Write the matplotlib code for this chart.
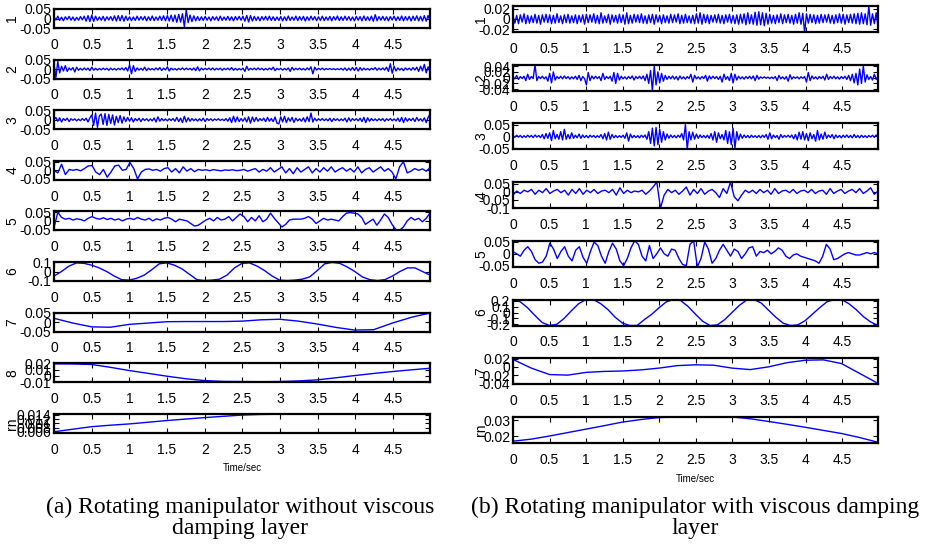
import numpy as np
import matplotlib
matplotlib.use("Agg")
import matplotlib.pyplot as plt

# ---- data: IMF components ----
# (a) without viscous damping layer, values in units noted by the scale factor
a_imf1 = np.array([
    10, -8, 12, -10, 7, -12, 9, -6, 11, -9, 8, -11, 6, -9, 10, -7, 12, -14, 15, -16,
    18, -15, 12, -10, 8, -9, 11, -12, 9, -8, 10, -11, 14, -13, 15, -12, 16, -14, 12, -10,
    9, -11, 8, -10, 12, -9, 10, -8, 11, -12, 9, -10, 13, -11, 8, -9, 12, -10, 14, -12,
    15, -13, 17, -16, 18, -20, 22, -19, 25, -44, 46, -22, 18, -16, 14, -12, 10, -11, 9, -10,
    11, -9, 8, -12, 10, -8, 9, -11, 12, -10, 8, -9, 11, -10, 9, -12, 10, -8, 11, -9,
    12, -14, 16, -18, 15, -13, 11, -10, 9, -12, 10, -8, 11, -9, 12, -10, 9, -11, 8, -10,
    10, -12, 9, -11, 13, -10, 8, -9, 12, -11, 10, -9, 11, -13, 9, -10, 12, -8, 10, -11,
    9, -10, 12, -11, 8, -9, 11, -12, 10, -8, 13, -11, 9, -10, 12, -9, 10, -11, 8, -12,
    11, -9, 10, -12, 13, -10, 9, -11, 12, -14, 20, -12, 10, -9, 11, -10, 9, -12, 10, -8,
    12, -11, 9, -10, 13, -12, 10, -9, 11, -13, 12, -10, 14, -12, 11, -13, 15, -14, 16, -12]) * 1e-3
a_imf2 = np.array([
    30, -45, 40, -20, 15, -10, 18, -12, 6, -5, 8, -15, 10, -6, 4, -5, 6, -4, 5, -8,
    10, -6, 4, -5, 3, -4, 5, -3, 4, -6, 5, -4, 3, -5, 4, -3, 6, -5, 8, -10,
    22, -25, 18, -12, 6, -5, 4, -6, 10, -8, 5, -4, 3, -5, 6, -4, 8, -7, 5, -4,
    12, -10, 5, -4, 3, -5, 4, -3, 6, -4, 5, -3, 4, -5, 6, -8, 12, -9, 5, -4,
    4, -3, 5, -4, 6, -5, 4, -3, 5, -6, 4, -3, 5, -4, 8, -6, 4, -5, 3, -4,
    5, -12, 15, -6, 4, -3, 5, -4, 6, -3, 4, -5, 3, -4, 5, -3, 10, -8, 4, -3,
    4, -5, 3, -4, 6, -12, 9, -5, 4, -3, 5, -4, 3, -5, 6, -4, 12, -25, 10, -5,
    4, -3, 5, -4, 3, -2, 3, -2, 2, -3, 2, -3, 4, -5, 6, -7, 5, -6, 8, -7,
    9, -10, 8, -6, 5, -4, 3, -5, 4, -3, 8, -6, 5, -4, 6, -5, 10, -12, 28, -22,
    15, -10, 6, -5, 4, -8, 6, -4, 5, -6, 8, -5, 10, -12, 15, -9, 25, -20, 12, -15]) * 1e-3
a_imf3 = np.array([
    0, 12, -8, 10, -12, 6, -4, 8, -10, 5, -3, 4, -6, 3, -5, 6, -4, 8, -12, 10,
    25, -30, 35, -40, 20, 30, -25, 32, -30, 28, -20, 25, -28, 18, -15, 22, -18, 15, -10, 12,
    -8, 10, -12, 6, -5, 8, -10, 6, -4, 5, -7, 4, -6, 9, -12, 15, -8, 6, -5, 4,
    -6, 5, -4, 6, -8, 12, -10, 8, -15, 18, -12, 10, -8, 6, -5, 4, -7, 5, -6, 8,
    -10, 6, -4, 5, -6, 4, -3, 5, -4, 3, -5, 6, -8, 10, -15, 18, -12, 14, -10, 6,
    -8, 10, -12, 15, -18, 14, -10, 12, -8, 6, -5, 8, -10, 12, -8, 6, -10, 14, -18, -22,
    15, -12, 18, -15, 10, -8, 12, -14, 8, -6, 5, -8, 10, -12, 15, -10, 35, -12, 8, -6,
    5, -4, 6, -5, 4, -6, 8, -10, 6, -4, 5, -6, 4, -5, 8, -12, 10, -8, 6, -4,
    5, -6, 8, -10, 12, -15, 10, -8, 6, -5, 4, -6, 5, -4, 6, -8, 5, -4, 6, -5,
    4, -6, 8, -10, 12, -15, 10, -8, 6, -5, 8, -10, 12, -6, 5, -8, 10, -15, 12, 30]) * 1e-3
a_imf4 = np.array([
    0, -15, 35, -25, 5, 0, 5, -3, 10, 25,
    28, -10, -25, 5, -40, -10, 25, 30, 0, 5,
    45, 10, -50, -10, 5, 8, 0, 5, -5, 10,
    15, -10, 10, -15, 20, -5, 10, -8, 5, 0,
    3, -2, 4, 0, -3, 2, 0, 3, -2, 0,
    5, -5, 3, 10, -10, 5, -5, 15, -10, 5,
    20, -15, 10, -20, 15, -10, 5, 20, -15, 10,
    -10, 15, -5, 20, -10, 5, 15, -5, 10, -10,
    20, -15, 5, 15, -10, 5, 20, -5, 10, -10,
    -50, 20, 50, -15, -5, 10, 0, 8, -5, 15]) * 1e-3
a_imf5 = np.array([
    -40, 50, 20, 10, 15, 5, 12, 8, 0, 15,
    25, 15, 10, 18, 8, 15, 5, 12, 0, 10,
    15, 8, 20, 10, 5, 15, 0, 12, 5, 15,
    20, 10, -5, 10, 5, 0, -15, -30, -25, -10,
    5, 15, 0, 20, 5, 10, 25, 0, 20, 40,
    25, -5, 20, 0, 30, -5, 10, 45, 15, -10,
    -35, -20, 5, 10, 10, 10, 15, 25, 10, -15,
    0, 15, 5, 10, 5, 0, 25, 45, 48, 45,
    40, 20, -20, -5, 10, -25, 5, 40, 20, -20,
    -50, -55, -35, 0, 20, 5, 15, -5, 15, 45]) * 1e-3
a_imf6 = np.array([
    -50, 0, 60, 95, 90, 70, 40, 0, -50, -90,
    -95, -75, -40, 20, 85, 95, 70, 30, -30, -90,
    -100, -95, -85, -40, 40, 90, 95, 60, 10, -50,
    -95, -100, -95, -85, -60, 10, 85, 100, 90, 50,
    0, -60, -90, -100, -90, -50, 0, 40, 40, 0, -40]) * 1e-3
a_imf7 = np.array([20, -5, -25, -27, -12, -5, 2, 3, 3, 3, 5,
                   12, 15, 5, -10, -28, -42, -40, -5, 25, 48]) * 1e-3
a_imf8 = np.array([190, 188, 180, 135, 84, 40, -5, -45, -74, -88, -90,
                   -92, -90, -80, -63, -30, 5, 38, 68, 95, 120]) * 1e-4
a_rn = np.array([600, 720, 840, 910, 970, 1050, 1130, 1200, 1270, 1330, 1390,
                 1420, 1430, 1433, 1435, 1437, 1438, 1439, 1440, 1440, 1440]) * 1e-5

# (b) with viscous damping layer
b_imf1 = np.array([
    6, -8, 7, -9, 8, -6, 10, -9, 7, -8, 6, -7, 9, -8, 7, -10, 8, -6, 9, -7,
    8, -9, 7, -8, 10, -7, 6, -9, 8, -7, 9, -8, 6, -7, 8, -9, 7, -6, 8, -10,
    9, -7, 8, -6, 10, -8, 7, -9, 12, -8, 6, -7, 9, -10, 8, -6, 7, -8, 9, -7,
    8, -10, 12, -9, 7, -8, 9, -6, 8, -7, 10, -8, 6, -9, 8, -7, 9, -10, 8, -6,
    7, -9, 8, -7, 6, -8, 9, -7, 8, -6, 10, -9, 7, -8, 9, -7, 6, -8, 7, -9,
    10, -8, 12, -10, 9, -7, 8, -9, 7, -6, 8, -7, 9, -8, 7, -9, 8, -6, 9, -8,
    7, -9, 8, -10, 9, -8, 10, -11, 12, -9, 8, -10, 13, -12, 14, -11, 12, -13, 11, -10,
    9, -8, 7, -9, 8, -7, 10, -9, 8, -7, 9, -8, 7, -10, 9, -8, 12, -10, 11, -26,
    10, -8, 9, -7, 8, -9, 7, -8, 9, -7, 8, -6, 9, -8, 7, -9, 8, -7, 10, -8,
    9, -10, 8, -7, 9, -8, 10, -9, 11, -10, 12, -9, 10, -11, 24, -12, 10, -9, 12, -14]) * 1e-3
b_imf2 = np.array([
    3, -4, 8, -6, 4, -3, 5, -10, 12, -6, 4, -3, 45, -10, 4, -3, 5, -4, 3, -12,
    15, -18, 20, -8, 4, -3, 5, -4, 6, -3, 4, -5, 3, -4, 5, -6, 8, -10, 4, -3,
    -25, 18, -10, 6, -4, 5, -3, 4, -10, 15, -6, 4, -3, 5, -12, 18, -20, 15, -8, 5,
    -4, 3, -5, 4, -3, 6, -8, 4, -3, 5, -4, 6, -10, 12, -20, 25, -45, 40, -25, 20,
    -18, 15, -12, 8, -6, 5, -4, 6, -5, 4, -8, 6, -4, 3, -5, 4, -3, 12, -15, 8,
    -4, 3, -5, 4, -3, 8, -12, 6, -4, 5, -3, 4, -6, 5, -15, 12, -6, 4, -10, 15,
    -18, 12, -8, 5, -4, 3, -5, 4, -3, 5, -4, 6, -10, 8, -5, 3, -2, 3, -2, 2,
    -3, 2, -3, 4, -10, 8, -4, 3, -5, 4, -12, 10, -5, 3, -2, 3, -4, 3, -2, 4,
    -15, 18, -10, 6, -4, 3, -5, 4, -3, 5, -8, 12, -6, 4, -3, 5, -4, 3, -5, 4,
    -3, 5, -6, 8, -10, 12, -18, 15, -25, 30, -20, 40, -15, 10, -6, 4, -8, 12, -6, 5]) * 1e-3
b_imf3 = np.array([
    3, -4, 5, -3, 4, -5, 3, -4, 5, -3, 4, -5, 6, -3, 4, -5, 8, -10, 12, -8,
    15, -18, 25, -10, 8, -12, 20, -15, 30, -12, 8, -10, 15, -8, 5, -6, 10, -8, 6, -5,
    4, -6, 5, -3, 4, -5, 3, -4, 8, -10, 12, -15, 18, -12, 8, -6, 4, -5, 3, -4,
    5, -8, 15, -20, 10, -6, 4, -5, 3, -6, 5, -4, 6, -12, 20, -30, 35, -40, 38, -35,
    30, -25, 20, -15, 10, -8, 6, -5, 4, -6, 5, -4, 12, -15, 50, -55, 20, -15, 18, -12,
    10, -8, 6, -5, 4, -6, 5, -8, 12, -15, 20, -25, 15, -10, 8, -15, 25, -30, 20, -35,
    35, -50, 20, -15, 10, -8, 6, -5, 4, -6, 5, -4, 3, -5, 4, -6, 5, -4, 8, -12,
    15, -10, 6, -5, 4, -12, 8, -5, 4, -3, 5, -4, 6, -10, 8, -15, 18, -12, 20, -15,
    12, -18, 15, -10, 8, -20, 25, -15, 10, -12, 18, -8, 6, -5, 8, -10, 6, -5, 4, -6,
    5, -4, 6, -5, 4, -6, 8, -5, 4, -6, 5, -4, 3, -5, 4, -3, 5, -4, 6, -3]) * 1e-3
b_imf4 = np.array([
    -20, 5, -10, 10, 0, 15, -15, 10, -5, 20,
    -10, 5, 15, -5, 10, -20, 15, -10, 20, -15,
    10, -5, 15, -10, 5, 10, -5, 15, -20, 25,
    -10, 10, -5, 5, 0, 10, -15, 5, 30, 60,
    -100, -20, 15, -5, 10, -15, 5, 30, -20, 15,
    -10, 20, -15, 5, 15, -5, -35, 20, -10, 60,
    -30, -55, -20, 10, -5, 10, -10, 15, -5, 10,
    -15, 20, -10, 5, 10, -5, 15, -10, 5, 10,
    -5, 15, -10, 5, 10, -15, 20, -10, 5, 15,
    -10, 5, 15, -5, 20, -10, 5, 25, -15, 5]) * 1e-3
b_imf5 = np.array([
    10, 0, -10, 15, 30, 10, -25, -40, -35, -10,
    45, 20, -20, 10, 30, -10, -30, 15, 30, -15,
    -40, 10, 50, 35, -10, -40, 10, 45, 20, -30,
    -50, -20, 25, 55, 40, -10, -30, 35, -20, 0,
    25, 0, -10, 20, 15, -20, -45, -50, 40, 55,
    -55, -20, 50, 20, -40, -20, 15, 40, 15, -10,
    20, 10, -20, 0, 25, 30, -10, 10, 5, 15,
    0, 10, 25, 15, -10, -20, -5, 0, -10, -15,
    -20, -25, -30, -40, -10, 40, 20, -25, -20, -10,
    0, 5, 0, -5, -5, 0, 5, 0, 5, 0]) * 1e-3
b_imf6 = np.array([
    22, 18, 8, -5, -17, -22, -20, -10, 3, 15,
    22, 22, 15, 5, -8, -18, -22, -22, -12, -3,
    8, 18, 22, 20, 10, -3, -15, -22, -21, -12,
    0, 12, 21, 22, 16, 4, -8, -18, -22, -21,
    -14, -3, 8, 18, 22, 22, 15, 5, -7, -16, -22]) * 1e-2
b_imf7 = np.array([180, -30, -186, -200, -134, -110, -100, -74, -30, 30, 50,
                   40, -30, -66, 0, 100, 160, 170, 80, -160, -400]) * 1e-4
b_rn = np.array([167, 180, 200, 222, 244, 266, 289, 305, 318, 321, 322,
                 322, 322, 310, 293, 275, 256, 236, 216, 190, 160]) * 1e-4

panels_a = [
    (a_imf1, (-0.05, 0.05), [-0.05, 0, 0.05], "1"),
    (a_imf2, (-0.05, 0.05), [-0.05, 0, 0.05], "2"),
    (a_imf3, (-0.05, 0.05), [-0.05, 0, 0.05], "3"),
    (a_imf4, (-0.055, 0.055), [-0.05, 0, 0.05], "4"),
    (a_imf5, (-0.055, 0.055), [-0.05, 0, 0.05], "5"),
    (a_imf6, (-0.105, 0.105), [-0.1, 0, 0.1], "6"),
    (a_imf7, (-0.05, 0.05), [-0.05, 0, 0.05], "7"),
    (a_imf8, (-0.01, 0.02), [-0.01, 0, 0.01, 0.02], "8"),
    (a_rn, (0.0055, 0.0145), [0.006, 0.008, 0.01, 0.012, 0.014], "rn"),
]
panels_b = [
    (b_imf1, (-0.025, 0.025), [-0.02, 0, 0.02], "1"),
    (b_imf2, (-0.045, 0.045), [-0.04, -0.02, 0, 0.02, 0.04], "2"),
    (b_imf3, (-0.055, 0.055), [-0.05, 0, 0.05], "3"),
    (b_imf4, (-0.1, 0.06), [-0.1, -0.05, 0, 0.05], "4"),
    (b_imf5, (-0.055, 0.055), [-0.05, 0, 0.05], "5"),
    (b_imf6, (-0.22, 0.22), [-0.2, -0.1, 0, 0.1, 0.2], "6"),
    (b_imf7, (-0.042, 0.021), [-0.04, -0.02, 0, 0.02], "7"),
    (b_rn, (0.0156, 0.0322), [0.02, 0.03], "rn"),
]
xticks = [0, 0.5, 1, 1.5, 2, 2.5, 3, 3.5, 4, 4.5]
xtick_labels = ["0", "0.5", "1", "1.5", "2", "2.5", "3", "3.5", "4", "4.5"]
t_end = 4.99

sans = ["Liberation Sans", "DejaVu Sans"]
W, H = 930, 553
fig = plt.figure(figsize=(W / 100, H / 100), dpi=100)


def draw_panel(left_px, top_px, w_px, h_px, y, ylim, yticks, name, label_x):
    ax = fig.add_axes([left_px / W, 1 - (top_px + h_px) / H, w_px / W, h_px / H])
    t = np.linspace(0, t_end, len(y))
    ax.plot(t, y, color="#0000ff", lw=1.0)
    ax.set_xlim(0, t_end)
    ax.set_ylim(*ylim)
    ax.set_xticks(xticks)
    ax.set_xticklabels(xtick_labels, family=sans, fontsize=10)
    ax.set_yticks(yticks)
    ax.set_yticklabels([f"{v:g}" for v in yticks], family=sans, fontsize=10)
    ax.tick_params(direction="in", top=True, right=True, length=3.5, width=0.8)
    ax.tick_params(axis="x", pad=7)
    ax.tick_params(axis="y", pad=2)
    for s in ax.spines.values():
        s.set_linewidth(1.6)
    ax.set_ylabel(name, family=sans, fontsize=10)
    ax.yaxis.set_label_coords(label_x, 0.5)
    return ax


for i, (y, ylim, yt, name) in enumerate(panels_a):
    ax_a = draw_panel(54, 9 + 50.6 * i, 376, 19, y, ylim, yt, name, -0.092)
ax_a.set_xlabel("Time/sec", family=sans, fontsize=7, labelpad=5)

for i, (y, ylim, yt, name) in enumerate(panels_b):
    ax_b = draw_panel(513, 6 + 58.7 * i, 365, 26, y, ylim, yt, name, -0.068)
ax_b.set_xlabel("Time/sec", family=sans, fontsize=7, labelpad=5)

serif = ["Liberation Serif", "DejaVu Serif"]
fig.text(240 / W, 1 - 497 / H, "(a) Rotating manipulator without viscous\ndamping layer",
         ha="center", va="top", family=serif, fontsize=17, linespacing=1.0,
         multialignment="center")
fig.text(695 / W, 1 - 497 / H, "(b) Rotating manipulator with viscous damping\nlayer",
         ha="center", va="top", family=serif, fontsize=17, linespacing=1.0,
         multialignment="center")

fig.savefig("out.png", dpi=100)
